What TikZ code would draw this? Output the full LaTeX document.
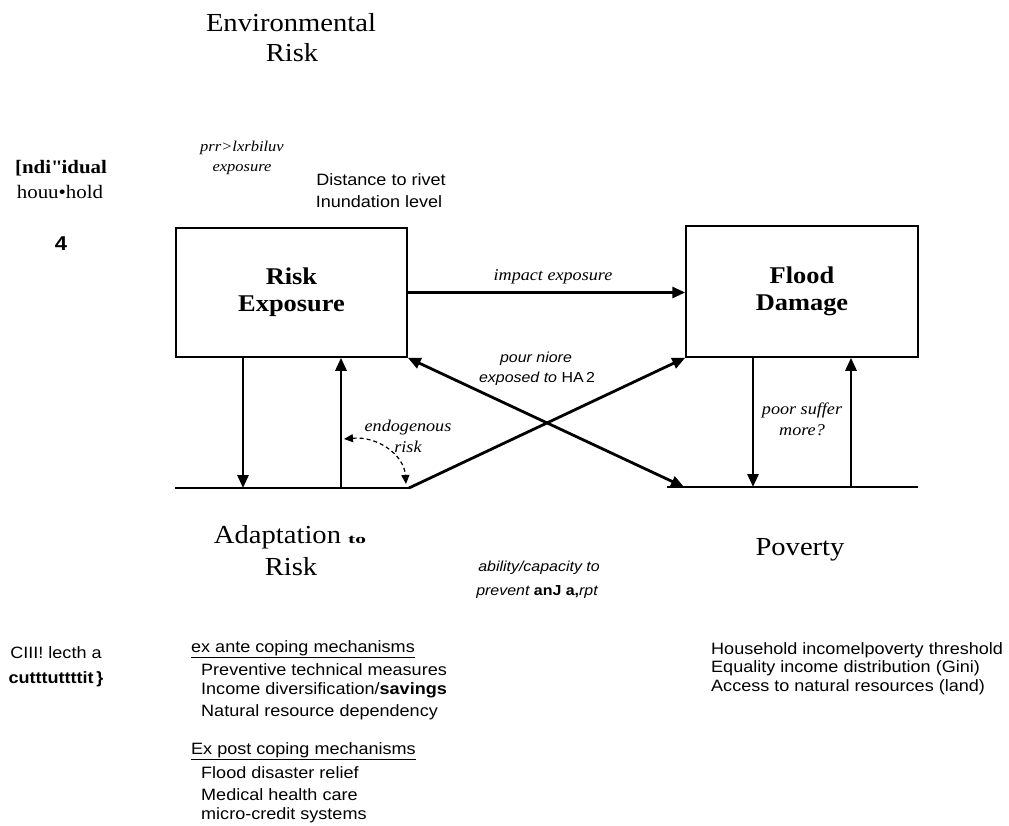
\documentclass[tikz,border=0pt]{standalone}
\usepackage{fontspec}
\setmainfont{Liberation Serif}
\newfontfamily\hs[FakeStretch=1.1]{Liberation Sans}
\newfontfamily\hr[FakeStretch=1.1]{Liberation Serif}
\usetikzlibrary{arrows.meta}
\tikzset{
  box/.style={draw, line width=1.5pt, inner sep=0pt, align=center,
    font=\hr\bfseries\fontsize{24}{27}\selectfont},
  head/.style={inner sep=0pt, font=\hr\fontsize{26}{30}\selectfont},
  lab/.style={inner sep=0pt, align=center, font=\hr\itshape\fontsize{16.5}{21}\selectfont},
  slab/.style={inner sep=0pt, align=center, font=\hs\itshape\fontsize{14.5}{20}\selectfont},
  txt/.style={inner sep=0pt, anchor=west, font=\hs\fontsize{16.4}{19}\selectfont},
  ctxt/.style={inner sep=0pt, font=\hs\fontsize{16.4}{19}\selectfont},
  arr/.style={line width=2.8pt, -{Triangle[length=13pt,width=11pt]}},
  darr/.style={line width=2.8pt, {Triangle[length=13pt,width=11pt]}-{Triangle[length=13pt,width=11pt]}},
  baseln/.style={line width=1.6pt},
  dcurve/.style={line width=1.2pt, dash pattern=on 4pt off 3pt,
    {Triangle[length=9pt,width=8pt]}-{Triangle[length=9pt,width=8pt]}}
}
\begin{document}
\begin{tikzpicture}[x=1pt,y=-1pt]
\useasboundingbox (0,0) rectangle (1009,826);

% headings
\node[head] (env1) at (291,23) {Environmental};
\node[head] (env2) at (292,53) {Risk};
\node[head] (ad1) at (290,537) {Adaptation \scalebox{1.5}[1]{\bfseries\fontsize{13}{13}\selectfont to}};
\node[head] (ad2) at (291,567) {Risk};
\node[head] (pov) at (800,550) {Poverty};

% left column
\node[inner sep=0pt, font=\hr\bfseries\fontsize{19}{22}\selectfont] (ind) at (61,168) {[ndi\textquotedbl idual};
\node[inner sep=0pt, font=\hr\fontsize{19}{22}\selectfont] (hh) at (60,192) {houu•hold};
\node[inner sep=0pt, font=\hs\bfseries\fontsize{20}{22}\selectfont] (four) at (61,244) {4};
\node[ctxt] (c1) at (56,653) {CIII! lecth a};
\node[inner sep=0pt, font=\hs\bfseries\fontsize{16.4}{19}\selectfont] (c2) at (56,679) {cutttuttttit\,\}};

% top labels
\node[lab, font=\hr\itshape\fontsize{15}{20}\selectfont] (pe) at (242,158) {prr>lxrbiluv\\exposure};
\node[ctxt] (d1) at (381,180) {Distance to rivet};
\node[ctxt] (d2) at (379,202) {Inundation level};

% boxes
\node[box, minimum width=231pt, minimum height=129pt] (RE) at (291.5,292.5) {Risk\\Exposure};
\node[box, minimum width=232pt, minimum height=131pt] (FD) at (802,291.5) {Flood\\Damage};

% baselines
\coordinate (LL) at (175,488);
\coordinate (LR) at (410,488);
\coordinate (RL) at (667,487);
\coordinate (RR) at (918,487);
\draw[baseln] (LL) -- (LR);
\draw[baseln] (RL) -- (RR);

% arrows
\draw[arr] (RE.east) -- (RE.east -| FD.west);
\coordinate (a1) at (243,488);
\coordinate (a2) at (341,488);
\coordinate (b1) at (753,487);
\coordinate (b2) at (851,487);
\draw[arr] (RE.south -| a1) -- (a1);
\draw[arr] (a2) -- (RE.south -| a2);
\draw[arr] (FD.south -| b1) -- (b1);
\draw[arr] (b2) -- (FD.south -| b2);
\coordinate (x1) at (684,487);
\coordinate (x2) at (409,488);
\draw[darr] (RE.south east) -- (x1);
\draw[arr] (x2) -- (FD.south west);
\coordinate (e1) at (344,439);
\coordinate (e2) at (406,484);
\draw[dcurve] (e1) .. controls (378,436) and (404,455) .. (e2);

% connector labels
\node[lab] (imp) at (553,277) {impact exposure};
\node[slab] (pm1) at (536,359) {pour niore};
\node[slab] (pm2) at (537,379) {exposed to {\upshape HA\,2}};
\node[lab] (endo) at (408,436) {endogenous\\risk};
\node[lab] (ps) at (802,419) {poor suffer\\more?};
\node[slab] (ab1) at (539,568) {ability/capacity to};
\node[slab] (ab2) at (537,592) {prevent {\upshape\bfseries anJ a,}rpt};

% lists
\node[txt] (ea) at (191,649) {\underline{ex ante coping mechanisms}};
\node[txt] (ea1) at (201,670) {Preventive technical measures};
\node[txt] (ea2) at (201,690) {Income diversification/\textbf{savings}};
\node[txt] (ea3) at (201,712) {Natural resource dependency};
\node[txt] (ep) at (191,751) {\underline{Ex post coping mechanisms}};
\node[txt] (ep1) at (201,773) {Flood disaster relief};
\node[txt] (ep2) at (201,795) {Medical health care};
\node[txt] (ep3) at (201,815) {micro-credit systems};

\node[txt] (p1) at (711,650) {Household incomelpoverty threshold};
\node[txt] (p2) at (711,668) {Equality income distribution (Gini)};
\node[txt] (p3) at (711,687) {Access to natural resources (land)};
\end{tikzpicture}
\end{document}
